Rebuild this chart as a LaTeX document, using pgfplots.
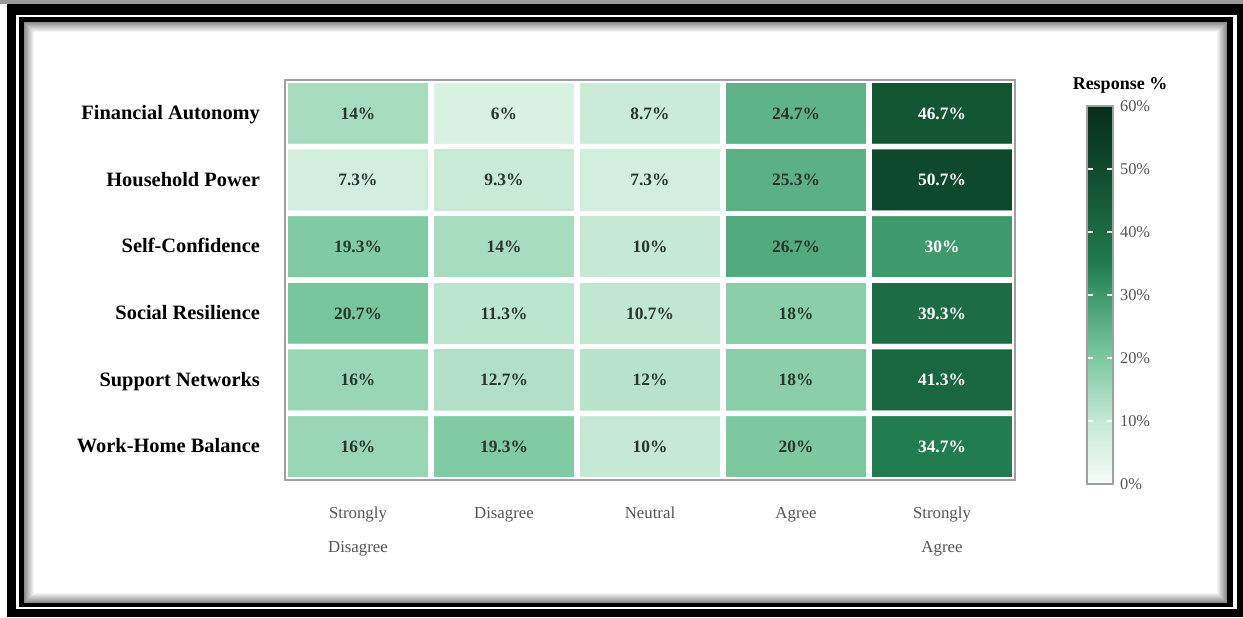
\documentclass[border=0pt]{standalone}
\usepackage{pgfplots}
\pgfplotsset{compat=1.18}
\usepackage{pgfplotstable}
\usepackage{fontspec}
\setmainfont{Liberation Serif}

\definecolor{celltxt}{RGB}{40,54,45}
\definecolor{labgray}{RGB}{85,85,85}
\definecolor{bordergray}{RGB}{160,160,160}

% x = response column, y = row, c = percent, lab = printed text
\pgfplotstableread{
x y c lab
0 0 14   14
1 0 6    6
2 0 8.7  8.7
3 0 24.7 24.7
4 0 46.7 46.7
0 1 7.3  7.3
1 1 9.3  9.3
2 1 7.3  7.3
3 1 25.3 25.3
4 1 50.7 50.7
0 2 19.3 19.3
1 2 14   14
2 2 10   10
3 2 26.7 26.7
4 2 30   30
0 3 20.7 20.7
1 3 11.3 11.3
2 3 10.7 10.7
3 3 18   18
4 3 39.3 39.3
0 4 16   16
1 4 12.7 12.7
2 4 12   12
3 4 18   18
4 4 41.3 41.3
0 5 16   16
1 5 19.3 19.3
2 5 10   10
3 5 20   20
4 5 34.7 34.7
}\heat

\begin{document}
\begin{tikzpicture}
  % frame, in pixel units of the reference
  \begin{scope}[x=0.5pt,y=-0.5pt]
    \useasboundingbox (0,0) rectangle (1243,617);
    \fill[black!40] (0,0) rectangle (1243,4);
    \fill[black] (7,4) rectangle (1243,617);
    \fill[white] (16,15) rectangle (1237,609);
    \fill[black] (19,17) rectangle (1233,607);
    \fill[white] (24,22) rectangle (1227,603);
    \foreach \i in {0,...,9} {
      \pgfmathsetmacro{\shade}{45-4.5*\i}
      \draw[line width=0.5pt, black!\shade] (24.5+\i,22.5+\i) rectangle (1226.5-\i,602.5-\i);
    }
  \end{scope}

  \begin{axis}[
      at={(142.5pt,-240pt)}, anchor=south west,
      width=365pt, height=200pt, scale only axis,
      xmin=-0.5, xmax=4.5, ymin=-0.5, ymax=5.5,
      y dir=reverse,
      xtick={0,...,4}, ytick={0,...,5},
      xticklabels={{Strongly\\Disagree}, Disagree, Neutral, Agree, {Strongly\\Agree}},
      yticklabels={Financial Autonomy, Household Power, Self-Confidence,
                   Social Resilience, Support Networks, Work-Home Balance},
      major tick length=0pt,
      xticklabel style={align=center, text=labgray, yshift=-10pt,
                        font=\fontsize{8.4}{17}\selectfont},
      yticklabel style={font=\bfseries\fontsize{10.2}{12}\selectfont, xshift=-9pt,
                        text height=1.45ex, text depth=0.1ex},
      axis line style={bordergray, line width=1pt},
      axis on top,
      colormap={resp}{rgb255(0cm)=(247,252,249) rgb255(1cm)=(197,233,212)
                      rgb255(2cm)=(124,201,160) rgb255(3cm)=(62,154,108)
                      rgb255(3.5cm)=(31,123,78) rgb255(4cm)=(27,107,67)
                      rgb255(5cm)=(14,75,45) rgb255(6cm)=(6,45,26)},
      point meta min=0, point meta max=60,
      colorbar,
      colorbar shift/.style={xshift=36pt, yshift=-13pt},
      colorbar style={
        at={(parent axis.north east)},
        anchor=north west,
        width=13pt, height=189pt,
        ytick={0,10,...,60},
        yticklabels={0\%,10\%,20\%,30\%,40\%,50\%,60\%},
        yticklabel style={text=labgray, font=\fontsize{8.2}{10}\selectfont},
        axis line style={bordergray, line width=0.8pt},
        ytick pos=both, yticklabel pos=right,
        tick align=inside,
        major tick length=3pt,
        every tick/.style={draw=white, line width=0.6pt},
        ytick style={draw=white, line width=0.6pt},
      },
    ]
    \addplot[matrix plot*, mesh/cols=5, point meta=explicit,
             draw=white, line width=2.8pt]
      table[x=x, y=y, meta=c]{\heat};
    \addplot[draw=none, mark=none, point meta=explicit symbolic,
             nodes near coords={\pgfplotspointmeta\%},
             visualization depends on={\thisrow{c}\as\cval},
             every node near coord/.append style={anchor=center,
                 execute at begin node={\ifdim\cval pt<29pt\color{celltxt}\else\color{white}\fi},
                 font=\bfseries\fontsize{8.7}{10}\selectfont}]
      table[x=x, y=y, meta=lab]{\heat};
  \end{axis}

  \node[font=\bfseries\fontsize{9}{10}\selectfont] at (560pt,-42.5pt) {Response \%};
\end{tikzpicture}
\end{document}
